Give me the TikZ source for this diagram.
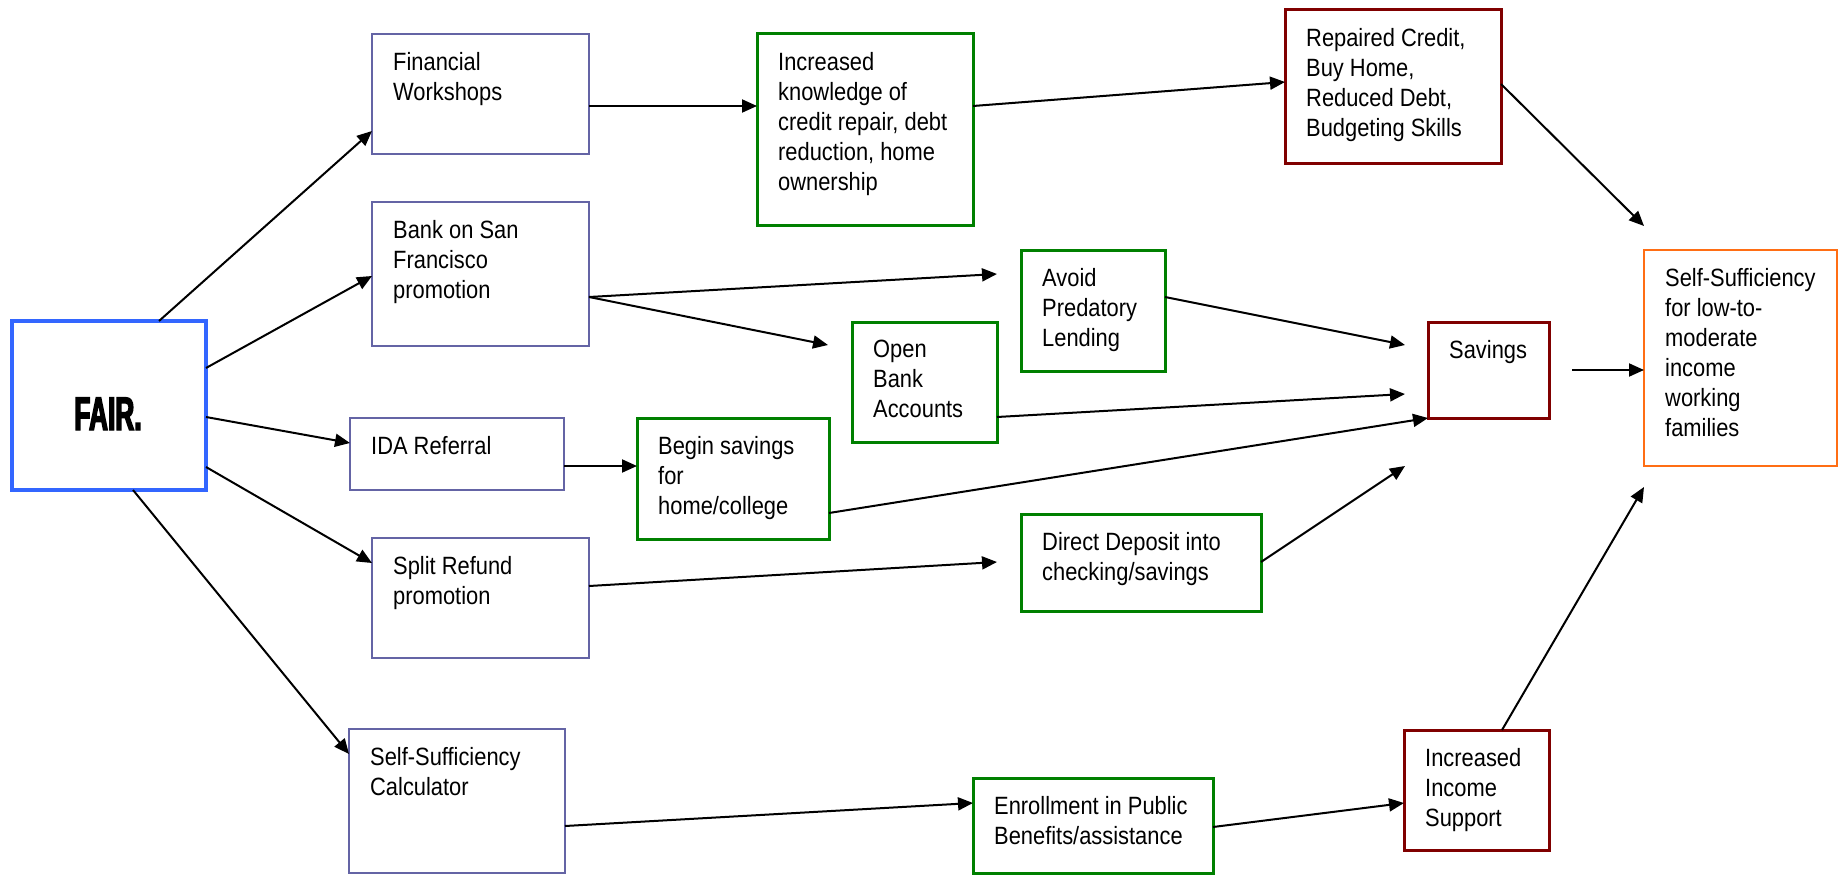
\documentclass[tikz,border=0pt]{standalone}
\usepackage{fontspec}
\setmainfont{Liberation Sans}[FakeStretch=0.875]
\newfontfamily\fairfont{Liberation Sans}[FakeStretch=0.56,FakeBold=3]
\usetikzlibrary{arrows.meta,fit}
\definecolor{purb}{RGB}{100,100,165}
\definecolor{grnb}{RGB}{0,128,0}
\definecolor{redb}{RGB}{128,0,0}
\definecolor{orgb}{RGB}{255,110,20}
\definecolor{blub}{RGB}{51,102,255}
\newcommand\bx[7]{%
  \node[#6, fit={(#2,#3)(#4,#5)}] (#1) {};
  \node[txt] (#1t) at ([shift={(21,18)}]#1.north west) {#7};
}
\begin{document}
\begin{tikzpicture}[x=1pt,y=-1pt,
  boxbase/.style={draw, inner sep=0pt, outer sep=0pt, fill=white},
  pbox/.style={boxbase, draw=purb, line width=2.8pt},
  gbox/.style={boxbase, draw=grnb, line width=3pt},
  rbox/.style={boxbase, draw=redb, line width=3pt},
  obox/.style={boxbase, draw=orgb, line width=2.8pt},
  fbox/.style={boxbase, draw=blub, line width=4.5pt},
  txt/.style={anchor=north west, inner sep=0pt, align=left, font=\fontsize{25}{30}\selectfont},
  arr/.style={-{Triangle[length=15pt,width=13pt]}, line width=2pt, black}
]
\useasboundingbox (0,0) rectangle (1847,875);

\node[fbox, fit={(12,321)(206,490)}] (fair) {};
\node[anchor=base, inner sep=0pt, font=\fairfont\bfseries\fontsize{47}{47}\selectfont] (fairt) at (108,430) {FAIR.};

\bx{fw}{372}{34}{589}{154}{pbox}{Financial\\Workshops}
\bx{bank}{372}{202}{589}{346}{pbox}{Bank on San\\Francisco\\promotion}
\bx{ida}{350}{418}{564}{490}{pbox}{IDA Referral}
\bx{split}{372}{538}{589}{658}{pbox}{Split Refund\\promotion}
\bx{ssc}{349}{729}{565}{873}{pbox}{Self-Sufficiency\\Calculator}

\bx{ik}{757}{34}{973}{225}{gbox}{Increased\\knowledge of\\credit repair, debt\\reduction, home\\ownership}
\bx{avoid}{1021}{250}{1165}{371}{gbox}{Avoid\\Predatory\\Lending}
\bx{open}{852}{322}{997}{442}{gbox}{Open\\Bank\\Accounts}
\bx{begin}{637}{418}{829}{539}{gbox}{Begin savings\\for\\home/college}
\bx{direct}{1021}{514}{1261}{611}{gbox}{Direct Deposit into\\checking/savings}
\bx{enroll}{973}{778}{1213}{873}{gbox}{Enrollment in Public\\Benefits/assistance}

\bx{rep}{1285}{10}{1501}{163}{rbox}{Repaired Credit,\\Buy Home,\\Reduced Debt,\\Budgeting Skills}
\bx{sav}{1428}{322}{1549}{418}{rbox}{Savings}
\bx{iis}{1404}{730}{1549}{850}{rbox}{Increased\\Income\\Support}

\bx{goal}{1644}{250}{1837}{466}{obox}{Self-Sufficiency\\for low-to-\\moderate\\income\\working\\families}

\coordinate (c1) at (1644,226);
\coordinate (c2) at (997,274);
\coordinate (c3) at (828,345);
\coordinate (c4) at (1405,345);
\coordinate (c5) at (1405,394);
\coordinate (c6) at (1405,466);
\coordinate (c7) at (997,562);
\coordinate (c8) at (1644,487);
\coordinate (c9) at (1572,370);

\draw[arr] ([shift={(147,0)}]fair.north west) -- ([shift={(0,97)}]fw.north west);
\draw[arr] ([shift={(0,47)}]fair.north east) -- ([shift={(0,74)}]bank.north west);
\draw[arr] ([shift={(0,96)}]fair.north east) -- ([shift={(0,25)}]ida.north west);
\draw[arr] ([shift={(0,146)}]fair.north east) -- ([shift={(0,25)}]split.north west);
\draw[arr] ([shift={(121,0)}]fair.south west) -- ([shift={(0,25)}]ssc.north west);

\draw[arr] ([shift={(0,72)}]fw.north east) -- ([shift={(0,72)}]ik.north west);
\draw[arr] ([shift={(0,72)}]ik.north east) -- ([shift={(0,72)}]rep.north west);
\draw[arr] ([shift={(0,74)}]rep.north east) -- (c1);

\draw[arr] ([shift={(0,95)}]bank.north east) -- (c2);
\draw[arr] ([shift={(0,95)}]bank.north east) -- (c3);
\draw[arr] ([shift={(0,47)}]avoid.north east) -- (c4);
\draw[arr] ([shift={(0,95)}]open.north east) -- (c5);
\draw[arr] ([shift={(0,95)}]begin.north east) -- (sav.south west);
\draw[arr] ([shift={(0,48)}]direct.north east) -- (c6);

\draw[arr] ([shift={(0,48)}]ida.north east) -- ([shift={(0,48)}]begin.north west);
\draw[arr] ([shift={(0,48)}]split.north east) -- (c7);
\draw[arr] ([shift={(0,97)}]ssc.north east) -- ([shift={(0,25)}]enroll.north west);
\draw[arr] ([shift={(0,49)}]enroll.north east) -- ([shift={(0,73)}]iis.north west);
\draw[arr] ([shift={(98,0)}]iis.north west) -- (c8);
\draw[arr] (c9) -- ([shift={(0,120)}]goal.north west);
\end{tikzpicture}
\end{document}
